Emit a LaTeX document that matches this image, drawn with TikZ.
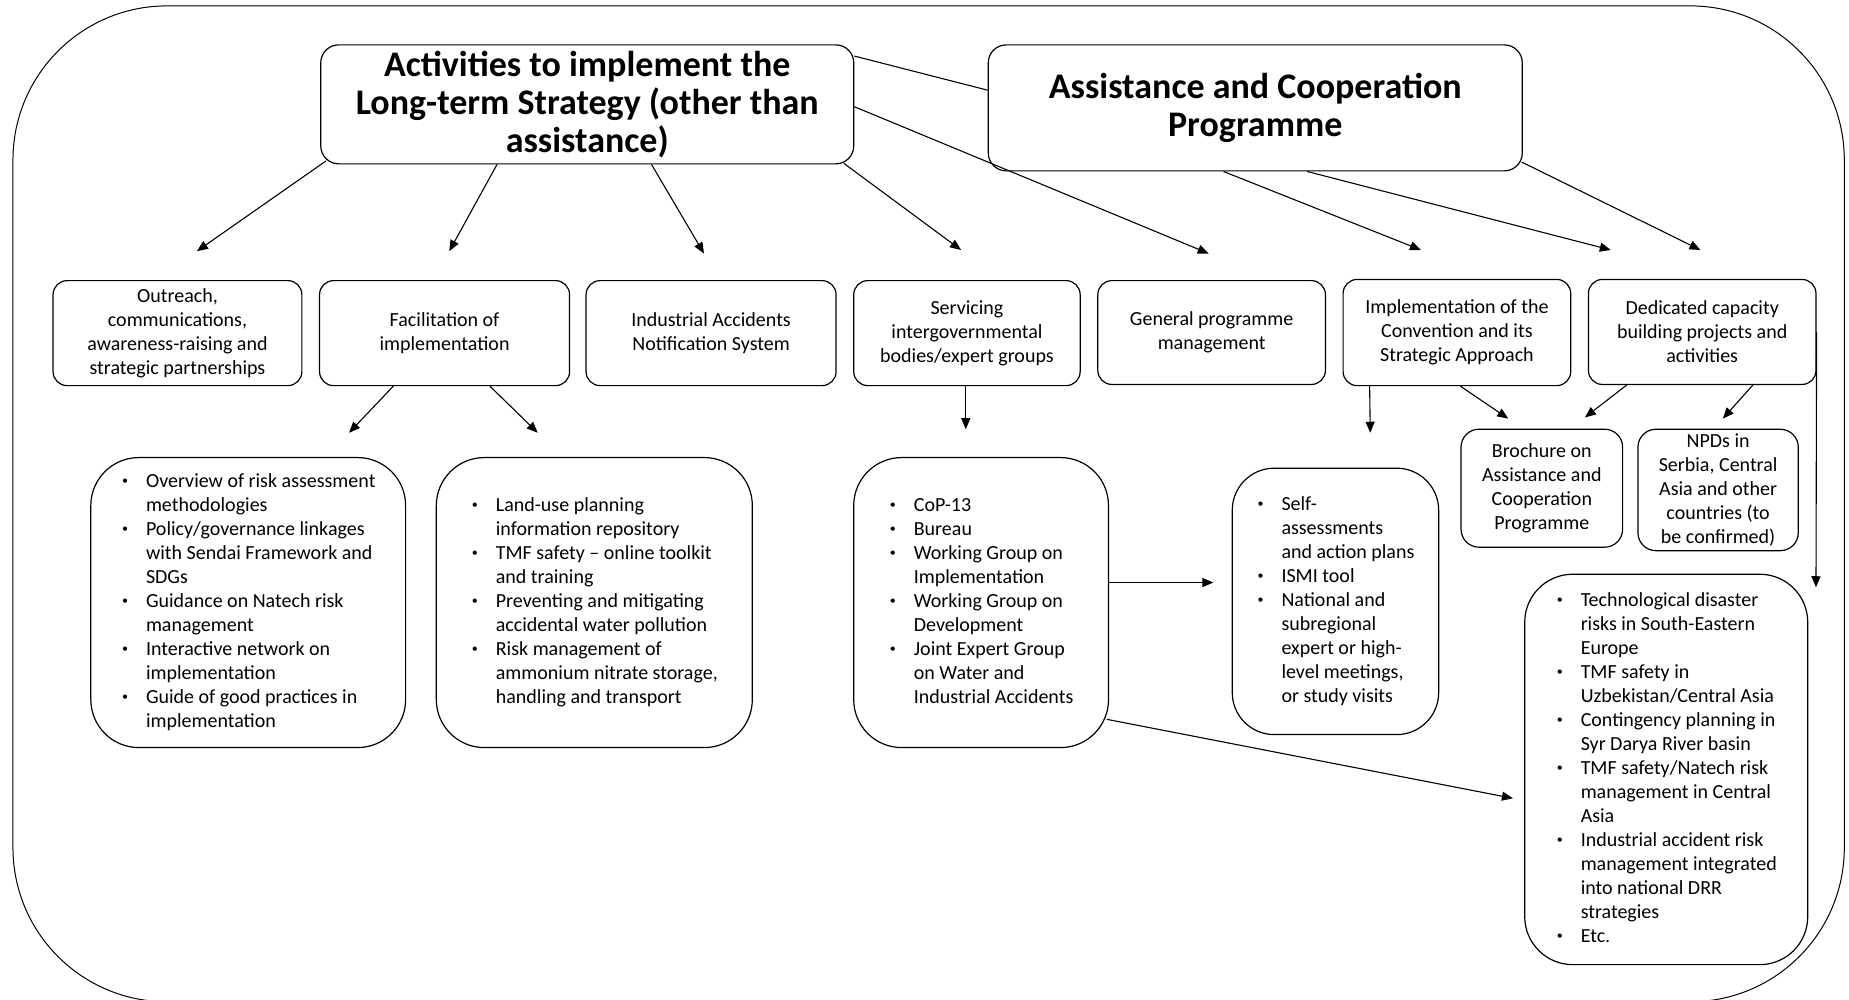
\documentclass[tikz,border=0pt]{standalone}
\usepackage{fontspec}
\setmainfont{Carlito}
\usetikzlibrary{arrows.meta,calc}

\tikzset{
  box/.style={draw, rounded corners=7pt, line width=0.6pt, align=center, inner sep=1pt,
    font={\fontsize{10}{12}\selectfont}},
  headbox/.style={box, rounded corners=9pt, font={\bfseries\fontsize{18}{19}\selectfont}},
  listbox/.style={box, rounded corners=24pt},
  arr/.style={-{Triangle[length=5.5pt,width=4.5pt]}, line width=0.55pt},
}
\newcommand{\bul}{\makebox[4pt]{\raisebox{0.3ex}{\fontsize{6}{6}\selectfont\textbullet}}}
\newcommand{\itemlist}[1]{\begin{tabular}{@{}l@{\hspace{8.5pt}}l@{}}#1\end{tabular}}

\begin{document}
\begin{tikzpicture}[x=0.5896pt, y=-0.5896pt]
\useasboundingbox (0,0) rectangle (1568,848);
\draw [line width=0.5pt, rounded corners=77pt] (11,5) rectangle (1564,849.5);

\node (act) [headbox, minimum width=266.5pt, minimum height=59.5pt] at (498,88.5) {Activities to implement the\\Long-term Strategy (other than\\assistance)};
\node (acp) [headbox, minimum width=267pt, minimum height=63pt] at (1064.5,91.5) {Assistance and Cooperation\\Programme};

\node (outreach) [box, minimum width=124.4pt, minimum height=52.5pt] at (150.5,282.5) {Outreach,\\communications,\\awareness-raising and\\strategic partnerships};
\node (facil) [box, minimum width=125pt, minimum height=52.5pt] at (377,282.5) {Facilitation of\\implementation};
\node (ians) [box, minimum width=125pt, minimum height=52.5pt] at (603,282.5) {Industrial Accidents\\Notification System};
\node (servicing) [box, minimum width=113.2pt, minimum height=52.5pt] at (820,282.5) {Servicing\\intergovernmental\\bodies/expert groups};
\node (general) [box, minimum width=113.8pt, minimum height=51.9pt] at (1027.5,282) {General programme\\management};
\node (convention) [box, minimum width=113.8pt, minimum height=53.1pt] at (1235.5,282) {Implementation of the\\Convention and its\\Strategic Approach};
\node (capacity) [box, minimum width=113.8pt, minimum height=52.5pt] at (1443.5,281.5) {Dedicated capacity\\building projects and\\activities};

\node (riskmeth) [listbox, minimum width=157.4pt, minimum height=145pt] at (210.5,511) {\itemlist{
  \bul & Overview of risk assessment\\
       & methodologies\\
  \bul & Policy/governance linkages\\
       & with Sendai Framework and\\
       & SDGs\\
  \bul & Guidance on Natech risk\\
       & management\\
  \bul & Interactive network on\\
       & implementation\\
  \bul & Guide of good practices in\\
       & implementation}};
\node (landuse) [listbox, minimum width=158pt, minimum height=145pt] at (504,511) {\itemlist{
  \bul & Land-use planning\\
       & information repository\\
  \bul & TMF safety -- online toolkit\\
       & and training\\
  \bul & Preventing and mitigating\\
       & accidental water pollution\\
  \bul & Risk management of\\
       & ammonium nitrate storage,\\
       & handling and transport}};
\node (bodies) [listbox, minimum width=127.4pt, minimum height=145pt] at (832,511) {\itemlist{
  \bul & CoP-13\\
  \bul & Bureau\\
  \bul & Working Group on\\
       & Implementation\\
  \bul & Working Group on\\
       & Development\\
  \bul & Joint Expert Group\\
       & on Water and\\
       & Industrial Accidents}};
\node (selfassess) [listbox, rounded corners=21pt, minimum width=103.2pt, minimum height=133.2pt] at (1132.5,510) {\itemlist{
  \bul & Self-\\
       & assessments\\
       & and action plans\\
  \bul & ISMI tool\\
  \bul & National and\\
       & subregional\\
       & expert or high-\\
       & level meetings,\\
       & or study visits}};
\node (brochure) [box, rounded corners=9pt, minimum width=80.8pt, minimum height=59pt] at (1307.5,414) {Brochure on\\Assistance and\\Cooperation\\Programme};
\node (npds) [box, rounded corners=9pt, minimum width=80.2pt, minimum height=60.7pt] at (1457,415.5) {NPDs in\\Serbia, Central\\Asia and other\\countries (to\\be confirmed)};
\node (projects) [listbox, minimum width=141.5pt, minimum height=195.2pt] at (1413,652.5) {\itemlist{
  \bul & Technological disaster\\
       & risks in South-Eastern\\
       & Europe\\
  \bul & TMF safety in\\
       & Uzbekistan/Central Asia\\
  \bul & Contingency planning in\\
       & Syr Darya River basin\\
  \bul & TMF safety/Natech risk\\
       & management in Central\\
       & Asia\\
  \bul & Industrial accident risk\\
       & management integrated\\
       & into national DRR\\
       & strategies\\
  \bul & Etc.}};

\coordinate (tip-outreach) at (167,213);
\coordinate (tip-facil) at (381,213);
\coordinate (tip-ians) at (597,215);
\coordinate (tip-servicing) at (815,212);
\coordinate (tip-general) at (1025,215);
\coordinate (tip-convention) at (1205,212);
\coordinate (tip-capacity1) at (1366,212);
\coordinate (tip-capacity2) at (1442,212);
\coordinate (tip-riskmeth) at (296,367);
\coordinate (tip-landuse) at (456,367);
\coordinate (tip-bodies) at (819,364);
\coordinate (tip-selfassess) at (1162,367);
\coordinate (tip-brochure1) at (1279,355);
\coordinate (tip-brochure2) at (1344,354);
\coordinate (tip-npds) at (1461,355);
\coordinate (tip-right) at (1540,498);
\coordinate (tip-selfassess2) at (1029,494);
\coordinate (tip-projects) at (1283,677);

\draw [line width=0.55pt] ($(act.north east)+(0,10)$) -- ($(acp.west)+(0,-15)$);
\draw [arr] ($(act.south west)+(5,-3)$) -- (tip-outreach);
\draw [arr] ($(act.south west)+(150,0)$) -- (tip-facil);
\draw [arr] ($(act.south west)+(281,0)$) -- (tip-ians);
\draw [arr] ($(act.south east)+(-9,-1)$) -- (tip-servicing);
\draw [arr] ($(act.east)+(0,2)$) -- (tip-general);
\draw [arr] ($(acp.south west)+(200,0)$) -- (tip-convention);
\draw [arr] ($(acp.south west)+(271,0)$) -- (tip-capacity1);
\draw [arr] ($(acp.south east)+(-1,-8)$) -- (tip-capacity2);

\draw [arr] ($(facil.south west)+(63,0)$) -- (tip-riskmeth);
\draw [arr] ($(facil.south west)+(145,0)$) -- (tip-landuse);
\draw [arr] ($(servicing.south)+(-1,0)$) -- (tip-bodies);
\draw [arr] ($(convention.south west)+(23,0)$) -- (tip-selfassess);
\draw [arr] ($(convention.south west)+(100,0)$) -- (tip-brochure1);
\draw [arr] ($(capacity.south west)+(33,0)$) -- (tip-brochure2);
\draw [arr] ($(capacity.south west)+(140,0)$) -- (tip-npds);
\draw [arr] (capacity.east) -- (tip-right);
\draw [arr] ($(bodies.east)+(0,-17)$) -- (tip-selfassess2);
\draw [arr] ($(bodies.east)+(-2,99)$) -- (tip-projects);
\end{tikzpicture}
\end{document}
